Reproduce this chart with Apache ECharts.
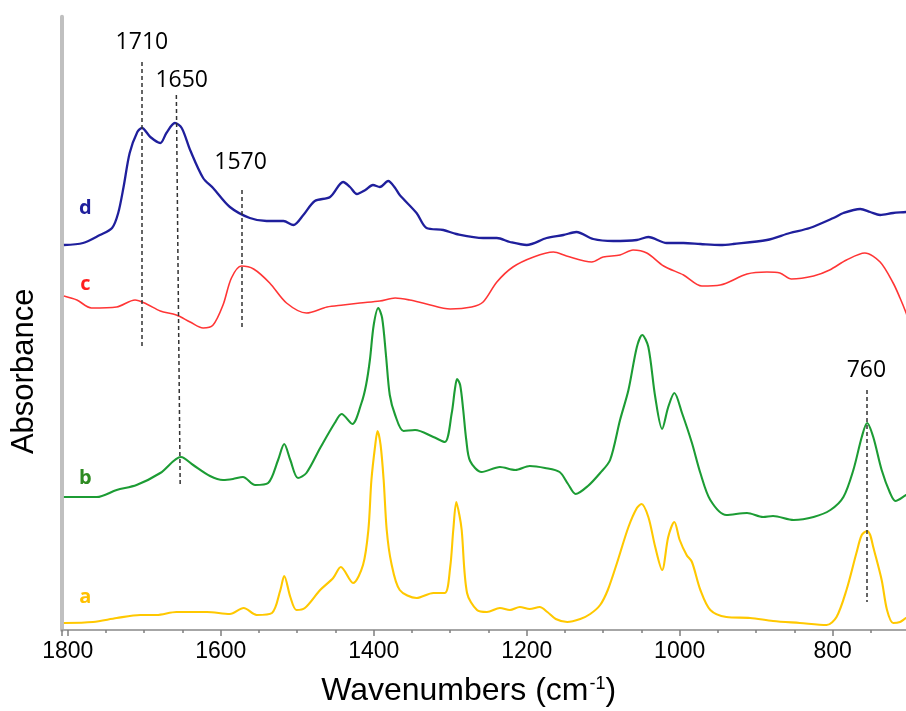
<!DOCTYPE html>
<html style="height: 100%">
<head>
    <meta charset="utf-8">
    <style>
        html, body { margin: 0; height: 100%; background: #fff; }
        #chart { width: 906px; height: 711px; }
    </style>
</head>
<body>
<div id="chart"></div>
<script src="https://cdn.jsdelivr.net/npm/echarts@6/dist/echarts.min.js"></script>
<script type="text/javascript">
// 波数 (cm-1) 和错开后的吸光度 (任意单位)
var dWn = [1805,1780,1758,1742,1734,1727,1719,1709,1703,1692,1679,1671,1660,1651,1640,1623,1610,1588,1562,1540,1518,1505,1492,1477,1457,1440,1431,1422,1411,1401,1392,1381,1372,1366,1344,1331,1309,1292,1257,1239,1222,1200,1174,1152,1135,1113,1087,1056,1041,1017,995,973,947,930,886,856,830,799,786,764,751,738,721,704,696];
var dAbs = [3.85,3.87,3.95,4.02,4.17,4.43,4.77,4.98,5.02,4.93,4.87,4.97,5.07,5.02,4.80,4.52,4.42,4.23,4.12,4.09,4.09,4.05,4.15,4.29,4.33,4.48,4.43,4.36,4.40,4.45,4.43,4.49,4.42,4.35,4.17,4.02,4.00,3.96,3.92,3.92,3.88,3.85,3.92,3.95,3.98,3.91,3.89,3.90,3.93,3.87,3.87,3.86,3.85,3.86,3.90,3.97,4.02,4.12,4.17,4.21,4.18,4.15,4.17,4.18,4.19];

var cWn = [1805,1788,1769,1736,1712,1697,1679,1658,1640,1623,1610,1597,1586,1573,1557,1536,1514,1488,1461,1440,1418,1392,1372,1353,1331,1300,1272,1257,1239,1218,1191,1165,1148,1115,1100,1078,1061,1043,1021,995,971,947,912,886,869,854,825,804,782,758,738,721,712,704,696];
var cAbs = [3.34,3.30,3.22,3.23,3.30,3.26,3.19,3.15,3.08,3.02,3.05,3.25,3.52,3.64,3.61,3.47,3.27,3.17,3.23,3.25,3.27,3.29,3.32,3.30,3.26,3.21,3.23,3.28,3.48,3.63,3.73,3.78,3.74,3.68,3.73,3.75,3.80,3.77,3.64,3.55,3.44,3.45,3.56,3.58,3.57,3.51,3.54,3.60,3.70,3.77,3.68,3.47,3.32,3.17,3.00];

var bWn = [1805,1762,1736,1710,1679,1652,1636,1614,1597,1584,1571,1555,1538,1525,1517,1509,1499,1488,1470,1451,1442,1428,1416,1410,1405,1400,1394,1389,1384,1379,1372,1361,1346,1322,1307,1298,1294,1291,1287,1283,1279,1274,1259,1235,1215,1196,1176,1157,1146,1136,1120,1104,1091,1078,1067,1056,1049,1041,1032,1023,1015,1007,997,984,973,960,939,912,891,878,851,825,803,786,773,762,755,747,736,725,718,704,696];
var bAbs = [1.33,1.33,1.40,1.45,1.57,1.73,1.65,1.54,1.50,1.51,1.53,1.45,1.47,1.70,1.86,1.70,1.52,1.57,1.82,2.07,2.16,2.06,2.27,2.45,2.70,3.05,3.22,3.12,2.75,2.35,2.15,1.99,2.00,1.93,1.88,2.17,2.40,2.51,2.45,2.20,1.90,1.69,1.58,1.63,1.60,1.64,1.62,1.58,1.46,1.36,1.44,1.57,1.70,2.10,2.40,2.83,2.95,2.83,2.33,2.01,2.23,2.37,2.17,1.87,1.57,1.30,1.15,1.17,1.13,1.14,1.10,1.13,1.20,1.33,1.60,1.93,2.07,1.93,1.60,1.37,1.29,1.35,1.38];

var aWn = [1805,1767,1736,1705,1684,1658,1618,1588,1570,1553,1533,1522,1517,1509,1501,1490,1470,1453,1443,1427,1414,1407,1403,1398,1395,1391,1387,1383,1377,1366,1344,1322,1307,1300,1296,1292,1288,1285,1278,1265,1252,1235,1222,1209,1196,1183,1173,1162,1147,1130,1117,1104,1094,1082,1067,1056,1050,1041,1032,1023,1015,1007,1000,991,984,973,960,939,908,878,843,808,795,782,769,762,755,751,747,736,729,721,712,704,696];
var aAbs = [0.07,0.08,0.12,0.15,0.15,0.18,0.18,0.16,0.22,0.15,0.17,0.40,0.54,0.33,0.20,0.22,0.40,0.52,0.63,0.47,0.65,1.00,1.50,1.85,1.99,1.85,1.50,1.00,0.67,0.40,0.32,0.37,0.37,0.63,1.00,1.28,1.15,1.00,0.37,0.20,0.18,0.22,0.20,0.23,0.21,0.23,0.18,0.11,0.08,0.11,0.16,0.25,0.40,0.67,1.03,1.22,1.26,1.13,0.83,0.60,0.93,1.08,0.90,0.75,0.68,0.40,0.20,0.13,0.12,0.09,0.07,0.05,0.13,0.40,0.77,0.95,0.99,0.95,0.83,0.50,0.20,0.07,0.08,0.12,0.14];

// 峰位标注 (虚线)
var peakText = ['1710', '1650', '1570', '760'];
var peakTopWn = [1703, 1658, 1573, 756];
var peakTopAbs = [5.68, 5.35, 4.40, 2.40];
var peakBotWn = [1703, 1653, 1573, 756];
var peakBotAbs = [2.83, 1.45, 3.02, 0.28];
var peakLabelWn = [1703, 1651, 1574, 756];
var peakLabelAbs = [5.88, 5.50, 4.68, 2.60];

// 曲线字母
var curveNames = ['d', 'c', 'b', 'a'];
var curveColors = ['#1f1f9c', '#ff3535', '#1c9c34', '#ffc800'];
var letterColors = ['#1f1f9c', '#ff1f1f', '#2e8b22', '#ffc000'];
var letterWn = [1777, 1777, 1777, 1777];
var letterAbs = [4.22, 3.46, 1.52, 0.33];

function pair(xs, ys) {
    return xs.map(function (x, i) { return [x, ys[i]]; });
}

var myChart = echarts.init(document.getElementById('chart'));
var curves = [pair(dWn, dAbs), pair(cWn, cAbs), pair(bWn, bAbs), pair(aWn, aAbs)];
var widths = [2.3, 1.6, 2.1, 2.1];

var series = curves.map(function (data, i) {
    return {
        name: curveNames[i],
        type: 'line',
        data: data,
        showSymbol: false,
        smooth: 0.3,
        lineStyle: {color: curveColors[i], width: widths[i]},
        z: 3
    };
});

series.push({
    type: 'scatter',
    symbolSize: 0,
    itemStyle: {color: 'rgba(0,0,0,0)', opacity: 1},
    data: peakLabelWn.map(function (w, i) {
        return {value: [w, peakLabelAbs[i]], name: peakText[i]};
    }),
    label: {
        show: true, position: 'inside', formatter: '{b}',
        color: '#000', fontSize: 23, fontFamily: 'Open Sans',
        textBorderWidth: 0
    },
    markLine: {
        silent: true,
        symbol: 'none',
        label: {show: false},
        lineStyle: {type: [4, 3], color: '#333', width: 1.5},
        data: peakText.map(function (t, i) {
            return [{coord: [peakTopWn[i], peakTopAbs[i]]}, {coord: [peakBotWn[i], peakBotAbs[i]]}];
        })
    },
    z: 4
});

series.push({
    type: 'scatter',
    symbolSize: 0,
    itemStyle: {color: 'rgba(0,0,0,0)', opacity: 1},
    data: curveNames.map(function (n, i) {
        return {
            value: [letterWn[i], letterAbs[i]], name: n,
            label: {color: letterColors[i]}
        };
    }),
    label: {
        show: true, position: 'inside', formatter: '{b}',
        fontSize: 20, fontWeight: 'bold', fontFamily: 'Open Sans',
        textBorderWidth: 0
    },
    z: 4
});

var option = {
    animation: false,
    backgroundColor: '#fff',
    grid: {left: 61.6, top: 16.7, width: 924.1, height: 613.3, outerBoundsMode: 'none', containLabel: false},
    xAxis: [{
        type: 'value',
        inverse: true,
        min: 600,
        max: 1808,
        interval: 50,
        axisLine: {lineStyle: {color: '#a6a6a6', width: 2}},
        axisTick: {length: 3, lineStyle: {color: '#7f7f7f', width: 1.5}},
        splitLine: {show: false},
        axisLabel: {
            margin: 10,
            formatter: function (v) { return v % 200 === 0 ? v : ''; },
            color: '#000',
            fontSize: 23,
            fontFamily: 'Liberation Sans'
        },
        name: '{t|Wavenumbers (cm}{s|-1}{t|)}',
        nameLocation: 'middle',
        nameGap: 45,
        nameTextStyle: {
            padding: [0, 110, 0, 0],
            rich: {
                t: {fontSize: 32, color: '#000', fontFamily: 'Liberation Sans'},
                s: {fontSize: 18, color: '#000', fontFamily: 'Liberation Sans', verticalAlign: 'top', padding: [0, 0, 12, 1]}
            }
        }
    }, {
        type: 'value',
        inverse: true,
        position: 'bottom',
        min: 600,
        max: 1808,
        interval: 200,
        axisLine: {show: false},
        axisTick: {length: 6, lineStyle: {color: '#7f7f7f', width: 1.5}},
        axisLabel: {show: false},
        splitLine: {show: false}
    }],
    yAxis: {
        type: 'value',
        min: 0,
        max: 6.133,
        axisLine: {show: true, lineStyle: {color: '#c0c0c0', width: 4}},
        axisTick: {show: false},
        axisLabel: {show: false},
        splitLine: {show: false},
        name: 'Absorbance',
        nameLocation: 'middle',
        nameRotate: 90,
        nameGap: 22,
        nameTextStyle: {
            fontSize: 31, color: '#000', fontFamily: 'Liberation Sans',
            padding: [0, 96, 0, 0]
        }
    },
    series: series
};
myChart.setOption(option);
</script>
</body>
</html>
